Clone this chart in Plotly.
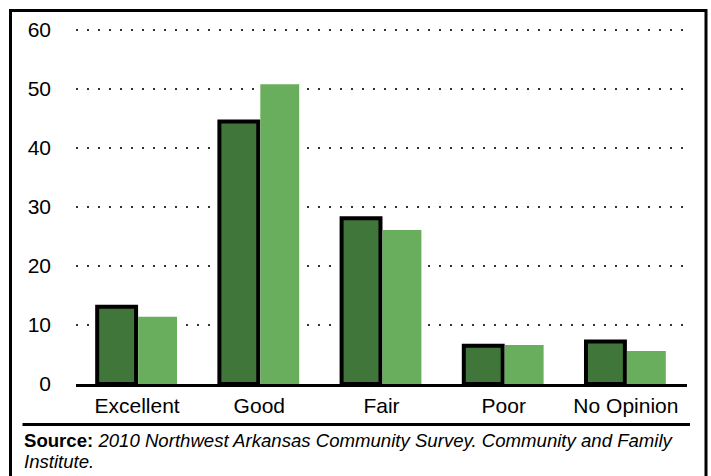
import plotly.graph_objects as go

# Survey response categories and percentages for the two bar series
categories = ["Excellent", "Good", "Fair", "Poor", "No Opinion"]
dark_values = [13.1, 44.5, 28.1, 6.5, 7.2]
light_values = [11.4, 50.8, 26.1, 6.6, 5.6]
y_ticks = [0, 10, 20, 30, 40, 50, 60]

W, H = 711, 476
M_L, M_R, M_T, M_B = 76, 24, 27, 92
PLOT_W = W - M_L - M_R
PLOT_H = H - M_T - M_B


def px_x(p):
    """Pixel column -> paper x."""
    return (p - M_L) / PLOT_W


def px_y(p):
    """Pixel row (from top) -> paper y."""
    return (H - M_B - p) / PLOT_H


FONT = "Liberation Sans, Arial, Helvetica, sans-serif"

fig = go.Figure()
fig.add_trace(go.Bar(
    x=categories, y=dark_values, name="Series 1",
    marker=dict(color="#41763a", line=dict(color="black", width=4)),
    hoverinfo="x+y",
))
fig.add_trace(go.Bar(
    x=categories, y=light_values, name="Series 2",
    marker=dict(color="#69ae5c", line=dict(width=0)),
    hoverinfo="x+y",
))

fig.update_layout(
    width=W, height=H,
    margin=dict(l=M_L, r=M_R, t=M_T, b=M_B, pad=0),
    paper_bgcolor="white", plot_bgcolor="white",
    barmode="group", bargap=0.33, bargroupgap=0.05,
    showlegend=False,
    font=dict(family=FONT, color="black"),
    xaxis=dict(
        showline=True, linecolor="black", linewidth=3,
        showgrid=False, ticks="", ticklabelstandoff=1,
        tickfont=dict(size=21, family=FONT, color="black"),
    ),
    yaxis=dict(
        range=[0, 60.51], tickvals=y_ticks, ticks="",
        showline=False, zeroline=False,
        showgrid=True, gridcolor="#333333", gridwidth=2, griddash="2px,9px",
        ticklabelstandoff=24,
        tickfont=dict(size=21, family=FONT, color="black"),
    ),
    shapes=[
        # outer frame
        dict(type="rect", xref="paper", yref="paper",
             x0=px_x(10.5), x1=px_x(706), y0=px_y(495), y1=px_y(10.5),
             line=dict(color="black", width=3), fillcolor="rgba(0,0,0,0)",
             layer="above"),
        # rule above the source note
        dict(type="line", xref="paper", yref="paper",
             x0=px_x(22.5), x1=px_x(690), y0=px_y(424.5), y1=px_y(424.5),
             line=dict(color="black", width=3)),
    ],
    annotations=[
        dict(xref="paper", yref="paper", x=px_x(22), y=px_y(441),
             xanchor="left", yanchor="middle", align="left", showarrow=False,
             text="<b>Source:</b> <i>2010 Northwest Arkansas Community Survey. "
                  "Community and Family</i>",
             font=dict(size=18.6, family=FONT, color="black")),
        dict(xref="paper", yref="paper", x=px_x(22), y=px_y(461),
             xanchor="left", yanchor="middle", align="left", showarrow=False,
             text="<i>Institute.</i>",
             font=dict(size=18.6, family=FONT, color="black")),
    ],
)

fig.write_html("out.html")
